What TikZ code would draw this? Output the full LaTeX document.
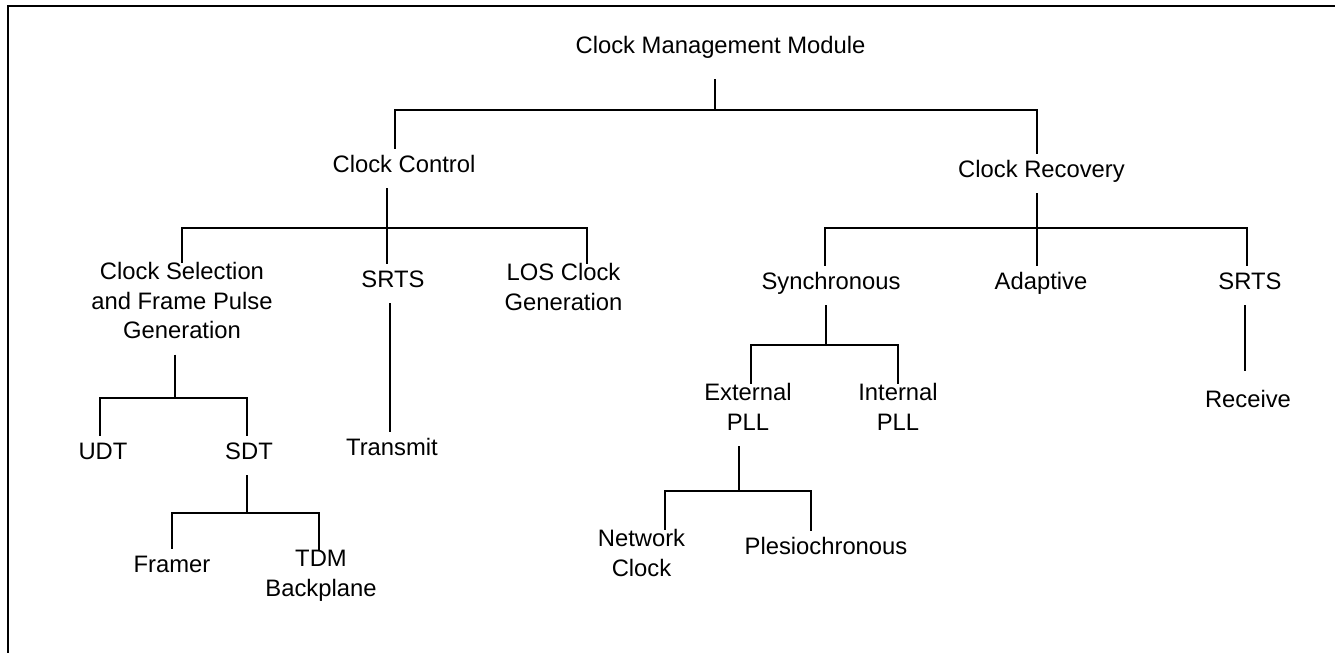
\documentclass[tikz,border=0pt]{standalone}
\usepackage{fontspec}
\setmainfont{Liberation Sans}
\newcommand{\lblstrut}{\rule[-8pt]{0pt}{19.75pt}}
\begin{document}
\begin{tikzpicture}[x=0.5pt,y=-0.5pt,
  lbl/.style={anchor=north,align=center,inner sep=0pt,outer sep=0pt,
    font=\fontsize{11.9}{14.7}\selectfont,
    execute at begin node=\lblstrut,execute at end node=\lblstrut},
  treeline/.style={line width=0.8pt}]
  \useasboundingbox (0,0) rectangle (1335,653);
  \draw[line width=1pt] (7.5,653) -- (7.5,6) -- (1335,6); %frame
  % level 0 and 1
  \node[lbl] (cmm) at (720.5,30.5) {Clock Management Module};
  \node[lbl] (cc) at (404,148.5) {Clock Control};
  \node[lbl] (cr) at (1041.5,153.5) {Clock Recovery};
  % level 2
  \node[lbl] (csel) at (182,262.5) {Clock Selection\\and Frame Pulse\\Generation};
  \node[lbl] (srtsT) at (393,263.5) {SRTS};
  \node[lbl] (los) at (563.5,263.5) {LOS Clock\\Generation};
  \node[lbl] (sync) at (831,265.5) {Synchronous};
  \node[lbl] (adap) at (1041,265.5) {Adaptive};
  \node[lbl] (srtsR) at (1250,265.5) {SRTS};
  % level 3
  \node[lbl] (udt) at (103,435.5) {UDT};
  \node[lbl] (sdt) at (249,435.5) {SDT};
  \node[lbl] (tx) at (392,431.5) {Transmit};
  \node[lbl] (ext) at (748,383.5) {External\\PLL};
  \node[lbl] (int) at (898,383.5) {Internal\\PLL};
  \node[lbl] (rx) at (1248,383.5) {Receive};
  % level 4
  \node[lbl] (fr) at (172,548.5) {Framer};
  \node[lbl] (tdm) at (321,550.5) {TDM\\Backplane};
  \node[lbl] (net) at (641.5,529.5) {Network\\Clock};
  \node[lbl] (ple) at (826,530.5) {Plesiochronous};
  % junctions
  \coordinate (jTop) at (715,110);
  \coordinate (jCC) at (387,228);
  \coordinate (jCR) at (1037,228);
  \coordinate (jCS) at (175,398);
  \coordinate (jSDT) at (247,513);
  \coordinate (jSync) at (826,345);
  \coordinate (jExt) at (739,491);
  % connectors
  \draw[treeline] (jTop |- cmm.south) ++(0,9) -- (jTop); %top stem
  \draw[treeline] ([xshift=-4.5pt]cc.north) |- (jTop) -| ([xshift=-2.25pt]cr.north);
  \draw[treeline] (jCC |- cc.south) -- (jCC |- srtsT.north); %through to SRTS
  \draw[treeline] (csel.north) |- (jCC) -| ([xshift=11.75pt]los.north);
  \draw[treeline] (jCR |- cr.south) -- (jCR |- adap.north); %through to Adaptive
  \draw[treeline] ([xshift=-3pt]sync.north) |- (jCR) -| ([xshift=-1.5pt]srtsR.north);
  \draw[treeline] ([xshift=-1.5pt]srtsT.south) -- ([xshift=-1pt]tx.north);
  \draw[treeline] ([xshift=-2.5pt]srtsR.south) -- ([xshift=-1.5pt,yshift=6.5pt]rx.north);
  \draw[treeline] (jCS |- csel.south) -- (jCS);
  \draw[treeline] ([xshift=-1.5pt]udt.north) |- (jCS) -| ([xshift=-1pt]sdt.north);
  \draw[treeline] (jSDT |- sdt.south) -- (jSDT);
  \draw[treeline] (fr.north) |- (jSDT) -| ([xshift=-1pt]tdm.north);
  \draw[treeline] (jSync |- sync.south) -- (jSync);
  \draw[treeline] ([xshift=1.5pt]ext.north) |- (jSync) -| (int.north);
  \draw[treeline] (jExt |- ext.south) -- (jExt);
  \draw[treeline] ([xshift=11.75pt]net.north) |- (jExt) -| ([xshift=-7.5pt]ple.north);
\end{tikzpicture}
\end{document}
